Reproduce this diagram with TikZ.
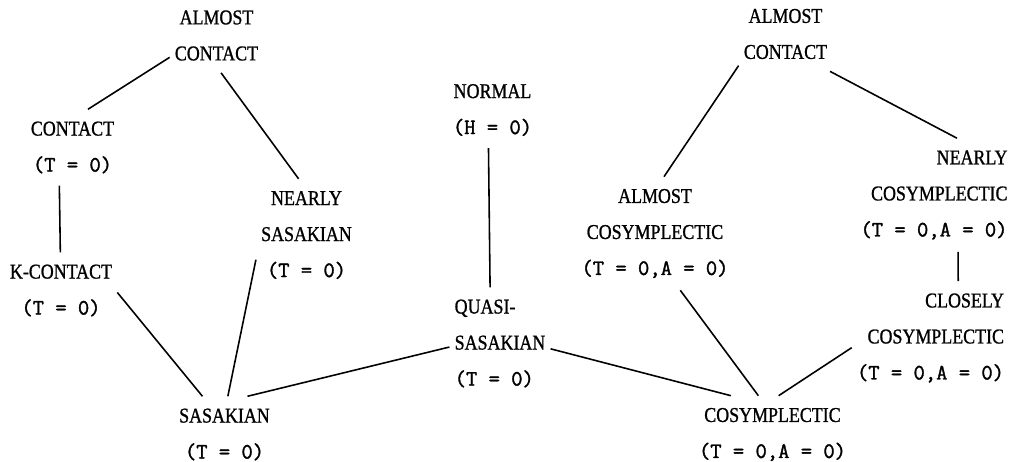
\documentclass[tikz,border=0pt]{standalone}
\usepackage{fontspec}
\setmainfont{Liberation Serif}[FakeStretch=0.85,FakeBold=1]
\newfontfamily\condfont{Latin Modern Mono}[FakeBold=1.5]
\newcommand{\cnd}[1]{{\condfont\fontsize{12.5}{20.5}\selectfont #1}}

\begin{document}
\begin{tikzpicture}[x=0.02cm,y=-0.02cm,
  cls/.style={inner xsep=2.8pt,inner ysep=6.8pt,align=center,font=\fontsize{12}{20.5}\selectfont},
  link/.style={line width=0.9pt}]
\useasboundingbox (0,0) rectangle (1019,462);
% contact side
\node[cls] (acl) at (216.5,35.5) {ALMOST\\CONTACT};
\node[cls] (contact) at (72.5,147.5) {CONTACT\\\cnd{(T = 0)}};
\node[cls] (kcontact) at (61,290.5) {K-CONTACT\\\cnd{(T = 0)}};
\node[cls] (nsas) at (306.5,235) {NEARLY\\SASAKIAN\\\cnd{(T = 0)}};
\node[cls] (sas) at (224.5,434.5) {SASAKIAN\\\cnd{(T = 0)}};
% middle
\node[cls] (normal) at (492.5,110) {NORMAL\\\cnd{(H = 0)}};
\node[cls,align=left] (quasi) at (500,343.5) {QUASI-\\SASAKIAN\\\cnd{(T = 0)}};
% cosymplectic side
\node[cls] (acr) at (785.5,34) {ALMOST\\CONTACT};
\node[cls] (acos) at (655,233.5) {ALMOST\\COSYMPLECTIC\\\cnd{(T = 0,A = 0)}};
\node[cls,align=right] (ncos) at (934,195) {NEARLY\\COSYMPLECTIC\\\cnd{(T = 0,A = 0)}};
\node[cls,align=right] (ccos) at (930.5,338) {CLOSELY\\COSYMPLECTIC\\\cnd{(T = 0,A = 0)}};
\node[cls] (cos) at (772.5,434.5) {COSYMPLECTIC\\\cnd{(T = 0,A = 0)}};
% connectors
\draw[link] (acl.205) -- (contact.68.6);
\draw[link] (acl.277) -- (nsas.98.8);
\draw[link] (contact.251) -- (kcontact.91);
\draw[link] (kcontact.358.6) -- (sas.120.6);
\draw[link] (nsas.206.3) -- (sas.85.8);
\draw[link] (sas.59.2) -- (quasi.184.3);
\draw[link] (quasi.354.3) -- (cos.137);
\draw[link] (normal.264) -- (quasi.100.4);
\draw[link] (acr.214.7) -- (acos.81.2);
\draw[link] (acr.320.4) -- (ncos.68.7);
\draw[link] (ncos.293.9) -- (ccos.64.3);
\draw[link] (acos.294.8) -- (cos.110.5);
\draw[link] (ccos.187.1) -- (cos.81.7);
\end{tikzpicture}
\end{document}
